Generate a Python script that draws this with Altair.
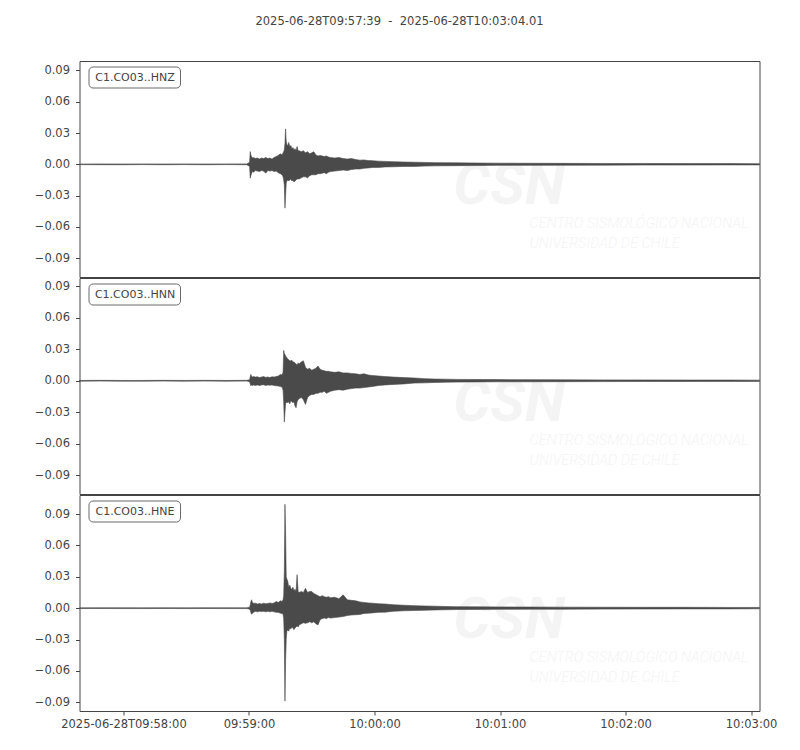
import altair as alt
import pandas as pd

# ---- data (seconds after 2025-06-28T09:57:39 UTC; envelope) ----
T = [0, 10, 20, 30, 40, 50, 60, 70, 80,
     81.3, 81.6, 81.9, 82.2, 82.6, 83.2,
     84, 85, 86, 87, 88, 89, 90, 91, 92, 93, 94, 95, 96,
     96.8, 97.3, 97.6, 97.9, 98.2, 98.5, 98.8, 99.1, 99.5,
     100, 100.5, 101, 101.5, 102, 102.5, 103, 103.5, 104, 104.5, 105,
     106, 107, 108, 109, 110, 111, 112, 113, 114, 115, 116, 117, 118, 119, 120,
     122, 124, 126, 128, 130, 132, 134, 136, 138, 140,
     143, 146, 150, 155, 160, 165, 170, 175, 180,
     190, 200, 215, 230, 250, 270, 290, 310, 325.01]

HNZ_MAX = [0.0003, 0.0004, 0.0003, 0.0004, 0.0003, 0.0004, 0.0003, 0.0004, 0.0004,
           0.002, 0.0122, 0.009, 0.0075, 0.006, 0.0065,
           0.0055, 0.006, 0.005, 0.006, 0.0055, 0.0065, 0.0055, 0.006, 0.005, 0.0065, 0.0075, 0.0085, 0.01,
           0.009, 0.011, 0.012, 0.014, 0.02, 0.034, 0.022, 0.019, 0.018,
           0.021, 0.017, 0.018, 0.015, 0.016, 0.014, 0.015, 0.013, 0.017, 0.013, 0.013,
           0.012, 0.013, 0.011, 0.012, 0.010, 0.011, 0.012, 0.009, 0.008, 0.0085, 0.008, 0.0075, 0.008, 0.007, 0.0065,
           0.006, 0.0065, 0.0055, 0.005, 0.0055, 0.0045, 0.004, 0.0042, 0.0036, 0.0035,
           0.003, 0.0028, 0.0025, 0.0022, 0.002, 0.0018, 0.0016, 0.0015, 0.0014,
           0.0012, 0.0011, 0.001, 0.0009, 0.0008, 0.0008, 0.0007, 0.0007, 0.0006]
HNZ_MIN = [-0.0003, -0.0004, -0.0004, -0.0003, -0.0004, -0.0003, -0.0004, -0.0003, -0.0004,
           -0.002, -0.0133, -0.011, -0.009, -0.007, -0.0075,
           -0.006, -0.0065, -0.007, -0.006, -0.0065, -0.0085, -0.006, -0.0065, -0.006, -0.007, -0.0065, -0.008, -0.009,
           -0.01, -0.012, -0.015, -0.02, -0.042, -0.03, -0.018, -0.016, -0.015,
           -0.016, -0.015, -0.014, -0.016, -0.015, -0.017, -0.016, -0.015, -0.014, -0.014, -0.014,
           -0.013, -0.012, -0.012, -0.013, -0.011, -0.010, -0.010, -0.010, -0.009, -0.009, -0.0085, -0.008, -0.009, -0.0075, -0.007,
           -0.0065, -0.006, -0.0055, -0.006, -0.005, -0.0045, -0.0045, -0.0038, -0.0035, -0.003,
           -0.003, -0.0025, -0.0024, -0.002, -0.002, -0.0017, -0.0015, -0.0014, -0.0013,
           -0.0012, -0.001, -0.001, -0.0009, -0.0008, -0.0007, -0.0007, -0.0006, -0.0006]

HNN_MAX = [0.0003, 0.0004, 0.0003, 0.0003, 0.0004, 0.0003, 0.0004, 0.0003, 0.0004,
           0.001, 0.004, 0.006, 0.0045, 0.0035, 0.004,
           0.0035, 0.0038, 0.003, 0.0035, 0.004, 0.0032, 0.0036, 0.003, 0.0038, 0.0035, 0.004, 0.0045, 0.006,
           0.0055, 0.008, 0.029, 0.026, 0.025, 0.0236, 0.023, 0.022, 0.021,
           0.02, 0.019, 0.019, 0.0195, 0.018, 0.018, 0.017, 0.016, 0.015, 0.017, 0.016,
           0.018, 0.019, 0.013, 0.011, 0.012, 0.010, 0.011, 0.012, 0.014, 0.011, 0.010, 0.0095, 0.009, 0.009, 0.0085,
           0.008, 0.0085, 0.0075, 0.0075, 0.007, 0.0066, 0.006, 0.0066, 0.0055, 0.005,
           0.0045, 0.004, 0.0035, 0.003, 0.0026, 0.002, 0.0016, 0.0015, 0.0013,
           0.0012, 0.0011, 0.001, 0.0009, 0.0008, 0.0008, 0.0007, 0.0007, 0.0006]
HNN_MIN = [-0.0004, -0.0003, -0.0004, -0.0004, -0.0003, -0.0004, -0.0003, -0.0004, -0.0003,
           -0.001, -0.003, -0.0047, -0.004, -0.0045, -0.004,
           -0.0045, -0.004, -0.0045, -0.004, -0.0038, -0.0045, -0.004, -0.0042, -0.004, -0.0045, -0.0048, -0.005, -0.0055,
           -0.006, -0.009, -0.02, -0.0394, -0.03, -0.022, -0.021, -0.02, -0.021,
           -0.02, -0.022, -0.019, -0.02, -0.021, -0.02, -0.024, -0.0258, -0.02, -0.018, -0.017,
           -0.016, -0.018, -0.0226, -0.016, -0.014, -0.013, -0.013, -0.012, -0.012, -0.011, -0.011, -0.010, -0.012, -0.011, -0.010,
           -0.009, -0.0085, -0.009, -0.008, -0.0075, -0.007, -0.007, -0.0065, -0.006, -0.0055,
           -0.0045, -0.004, -0.0035, -0.003, -0.0022, -0.002, -0.0016, -0.0014, -0.0013,
           -0.0011, -0.001, -0.001, -0.0009, -0.0008, -0.0007, -0.0007, -0.0006, -0.0006]

HNE_MAX = [0.0003, 0.0004, 0.0004, 0.0003, 0.0004, 0.0003, 0.0004, 0.0004, 0.0003,
           0.001, 0.003, 0.006, 0.008, 0.006, 0.0045,
           0.0048, 0.004, 0.0045, 0.004, 0.0048, 0.0042, 0.0045, 0.005, 0.0045, 0.005, 0.0064, 0.0055, 0.007,
           0.0065, 0.008, 0.012, 0.035, 0.0994, 0.073, 0.03, 0.028, 0.026,
           0.02, 0.022, 0.019, 0.018, 0.02, 0.017, 0.018, 0.016, 0.032, 0.016, 0.015,
           0.016, 0.015, 0.019, 0.015, 0.016, 0.016, 0.014, 0.013, 0.012, 0.011, 0.012, 0.011, 0.0105, 0.011, 0.01,
           0.0105, 0.009, 0.0128, 0.008, 0.0075, 0.007, 0.006, 0.0055, 0.005, 0.0048,
           0.0042, 0.004, 0.0033, 0.0028, 0.0024, 0.0021, 0.0019, 0.0016, 0.0014,
           0.0013, 0.0012, 0.0011, 0.001, 0.0009, 0.0008, 0.0008, 0.0007, 0.0007]
HNE_MIN = [-0.0004, -0.0003, -0.0004, -0.0004, -0.0003, -0.0004, -0.0003, -0.0004, -0.0004,
           -0.001, -0.002, -0.004, -0.0057, -0.005, -0.004,
           -0.003, -0.0035, -0.003, -0.0032, -0.003, -0.0035, -0.003, -0.0035, -0.003, -0.0035, -0.004, -0.004, -0.0048,
           -0.005, -0.006, -0.01, -0.03, -0.0889, -0.05, -0.03, -0.022, -0.021,
           -0.022, -0.019, -0.02, -0.018, -0.019, -0.0206, -0.019, -0.018, -0.017, -0.018, -0.016,
           -0.015, -0.014, -0.0145, -0.014, -0.013, -0.014, -0.013, -0.015, -0.016, -0.011, -0.010, -0.0095, -0.010, -0.009, -0.0095,
           -0.009, -0.0085, -0.008, -0.007, -0.0065, -0.0063, -0.006, -0.005, -0.0048, -0.0045,
           -0.004, -0.0038, -0.003, -0.0025, -0.0022, -0.002, -0.0017, -0.0015, -0.0013,
           -0.0012, -0.0011, -0.001, -0.001, -0.0009, -0.0008, -0.0007, -0.0007, -0.0006]

CHANNELS = ["C1.CO03..HNZ", "C1.CO03..HNN", "C1.CO03..HNE"]
Y_DOMAINS = [[-0.108, 0.099], [-0.108, 0.098], [-0.0984, 0.1083]]
Y_TICKS = [-0.09, -0.06, -0.03, 0.0, 0.03, 0.06, 0.09]
TITLE = "2025-06-28T09:57:39\u00a0\u00a0-\u00a0\u00a02025-06-28T10:03:04.01"
START = "2025-06-28T09:57:39"
END_OFFSET = 325.01
TICK_MINUTES = [58, 59, 60, 61, 62, 63]  # minutes after 09:00

# ---- styling ----
TRACE = "#4a4a4a"
INK = "#444444"
FONT = "DejaVu Sans"
LFS = 11.5
W, H = 680, 216
WM = "#f4f4f4"

START_MS = int(pd.Timestamp(START, tz="UTC").value // 10**6)
HOUR9_MS = int(pd.Timestamp("2025-06-28T09:00:00", tz="UTC").value // 10**6)
X_DOMAIN = [START_MS, START_MS + int(END_OFFSET * 1000)]
X_TICKS = [HOUR9_MS + m * 60000 for m in TICK_MINUTES]


def frame(up, lo):
    return pd.DataFrame({"t": [START_MS + s * 1000 for s in T], "up": up, "lo": lo})


def panel(name, up, lo, ydom, show_x):
    df = frame(up, lo)
    if show_x:
        xaxis = alt.Axis(
            values=X_TICKS,
            labelExpr="datum.index == 0 ? utcFormat(datum.value, '%Y-%m-%dT%H:%M:%S') : utcFormat(datum.value, '%H:%M:%S')",
            title=None, grid=False, domain=False, tickSize=4, labelPadding=3,
            labelFlush=False, labelOverlap=False,
            labelFont=FONT, labelFontSize=LFS, labelColor=INK, tickColor=INK,
        )
    else:
        xaxis = None
    x = alt.X("t:T", scale=alt.Scale(type="utc", domain=X_DOMAIN, nice=False), axis=xaxis)
    y = alt.Y("up:Q", scale=alt.Scale(domain=ydom, nice=False, zero=False),
              axis=alt.Axis(values=Y_TICKS, title=None, grid=False,
                            labelExpr="(datum.value < -0.0001 ? '\u2212' : '') + format(abs(datum.value), '.2f')",
                            domain=False, tickSize=4, labelPadding=6,
                            labelFont=FONT, labelFontSize=LFS, labelColor=INK, tickColor=INK))

    lab = pd.DataFrame({"label": [name]})
    wm = alt.Chart(pd.DataFrame({"w": ["CSN"]})).mark_text(
        font="Roboto", fontSize=58, fontStyle="italic", fontWeight="bold",
        color=WM, align="left", baseline="alphabetic"
    ).encode(text="w:N", x=alt.value(374), y=alt.value(143))
    wm1 = alt.Chart(pd.DataFrame({"w": ["CENTRO SISMOLÓGICO NACIONAL"]})).mark_text(
        font="Roboto", fontSize=14.5, fontStyle="italic", fontWeight=300,
        color=WM, align="left", baseline="middle"
    ).encode(text="w:N", x=alt.value(450), y=alt.value(163))
    wm2 = alt.Chart(pd.DataFrame({"w": ["UNIVERSIDAD DE CHILE"]})).mark_text(
        font="Roboto", fontSize=14.5, fontStyle="italic", fontWeight=300,
        color=WM, align="left", baseline="middle"
    ).encode(text="w:N", x=alt.value(450), y=alt.value(183))

    area = alt.Chart(df).mark_area(
        color=TRACE, stroke=TRACE, strokeWidth=0.6, interpolate="linear", opacity=1
    ).encode(x=x, y=y, y2="lo:Q")

    box = alt.Chart(lab).mark_rect(
        fill="white", stroke="#6a6a6a", strokeWidth=1, cornerRadius=4
    ).encode(x=alt.value(9.5), x2=alt.value(101), y=alt.value(6), y2=alt.value(27))
    txt = alt.Chart(lab).mark_text(
        font=FONT, fontSize=11, color=INK, align="center", baseline="middle"
    ).encode(text="label:N", x=alt.value(55.5), y=alt.value(17))

    return alt.layer(wm, wm1, wm2, area, box, txt).properties(width=W, height=H)


panels = [
    panel(CHANNELS[0], HNZ_MAX, HNZ_MIN, Y_DOMAINS[0], False),
    panel(CHANNELS[1], HNN_MAX, HNN_MIN, Y_DOMAINS[1], False),
    panel(CHANNELS[2], HNE_MAX, HNE_MIN, Y_DOMAINS[2], True),
]

chart = alt.vconcat(*panels, spacing=-1).resolve_scale(
    x="independent", y="independent"
).properties(
    title=alt.TitleParams(TITLE, font=FONT, fontSize=11.5, fontWeight="normal",
                          color=INK, anchor="middle", frame="group", offset=33, dx=-20),
    padding={"left": 25.5, "top": 8, "right": 5, "bottom": 5},
    background="white",
).configure_view(
    stroke=INK, strokeWidth=1
)

chart.save("out.html", embed_options={"renderer": "svg", "actions": False})
